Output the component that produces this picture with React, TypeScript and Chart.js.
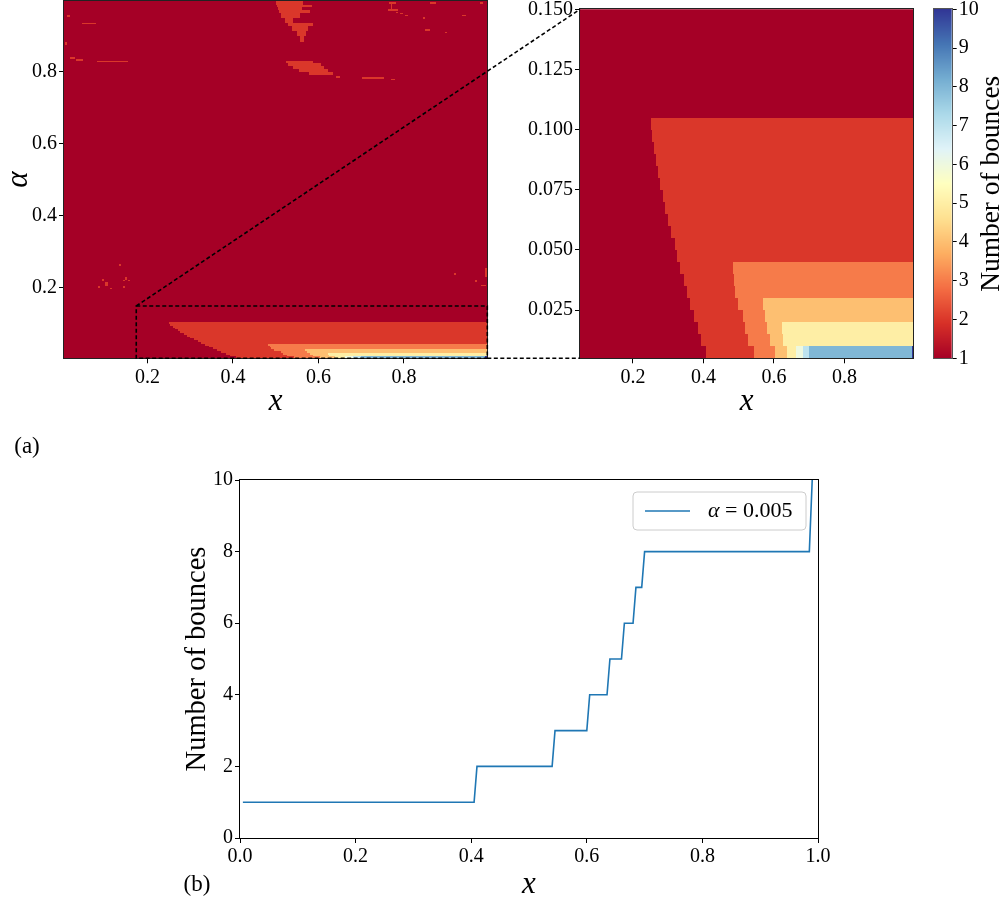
import React, { useEffect, useRef } from 'react';
import { Chart, registerables } from 'chart.js';

Chart.register(...registerables);

const SERIF = '"Liberation Serif", "DejaVu Serif", serif';

// ---- colour scale: number of bounces ----
const COUNT_RANGE = [1, 10];
const COUNT_TICKS = [1, 2, 3, 4, 5, 6, 7, 8, 9, 10];
const RDYLBU = ['#a50026', '#d73027', '#f46d43', '#fdae61', '#fee090', '#ffffbf', '#e0f3f8', '#abd9e9', '#74add1', '#4575b4', '#313695'];
const COUNT_LABEL = 'Number of bounces';

// ---- full (x, α) map ----
const FULL_X_RANGE = [0.005, 0.995];
const FULL_ALPHA_RANGE = [0.005, 0.995];
const FULL_X_TICKS = [0.2, 0.4, 0.6, 0.8];
const FULL_ALPHA_TICKS = [0.2, 0.4, 0.6, 0.8];

// ---- zoomed map ----
const ZOOM_X_RANGE = [0.05, 0.995];
const ZOOM_ALPHA_RANGE = [0.005, 0.15];
const ZOOM_X_TICKS = [0.2, 0.4, 0.6, 0.8];
const ZOOM_ALPHA_TICKS = [0.025, 0.05, 0.075, 0.1, 0.125, 0.15];

// region of the full map shown in the zoom
const MARK_X = [0.174, 0.995];
const MARK_ALPHA = [0.005, 0.15];

// low-α band: rows of height ALPHA_STEP, lower edge given by ROW_ALPHA
const ALPHA_STEP = 0.005;
const ROW_ALPHA = [0.005, 0.01, 0.015, 0.02, 0.025, 0.03, 0.035, 0.04, 0.045, 0.05, 0.055, 0.06, 0.065, 0.07, 0.075, 0.08, 0.085, 0.09, 0.095, 0.1];
// x at which a row first reaches n bounces (row order as ROW_ALPHA)
const EDGE_2 = [0.408, 0.394, 0.384, 0.372, 0.362, 0.354, 0.345, 0.334, 0.326, 0.318, 0.309, 0.3, 0.292, 0.285, 0.277, 0.271, 0.265, 0.259, 0.254, 0.251];
const EDGE_3 = [0.544, 0.527, 0.518, 0.512, 0.497, 0.49, 0.486, 0.483];
const EDGE_4 = [0.603, 0.588, 0.58, 0.574, 0.568];
const EDGE_5 = [0.638, 0.625, 0.623];
const EDGE_6 = [0.663];
const EDGE_7 = [0.682];
const EDGE_8 = [0.699];
const EDGE_10 = [0.99];

// isolated two-bounce islands at larger α: [x0, x1, α0, α1]
const ISLAND_COUNT = 2;
const ISLANDS: number[][] = [
  [0.501, 0.565, 0.984, 0.995], [0.503, 0.585, 0.978, 0.984], [0.506, 0.561, 0.97, 0.978],
  [0.509, 0.581, 0.963, 0.97], [0.512, 0.557, 0.949, 0.963], [0.522, 0.54, 0.935, 0.949],
  [0.53, 0.588, 0.926, 0.935], [0.538, 0.575, 0.912, 0.926], [0.549, 0.571, 0.898, 0.912],
  [0.557, 0.567, 0.881, 0.898],
  [0.524, 0.588, 0.822, 0.828], [0.53, 0.606, 0.815, 0.822], [0.54, 0.614, 0.806, 0.815],
  [0.555, 0.622, 0.797, 0.806], [0.578, 0.633, 0.789, 0.797], [0.641, 0.65, 0.783, 0.788],
  [0.012, 0.018, 0.952, 0.957], [0.048, 0.079, 0.93, 0.935], [0.008, 0.012, 0.872, 0.881],
  [0.018, 0.03, 0.835, 0.839], [0.032, 0.049, 0.829, 0.835], [0.083, 0.155, 0.825, 0.83],
  [0.764, 0.782, 0.987, 0.993], [0.769, 0.773, 0.968, 0.993], [0.762, 0.786, 0.968, 0.974],
  [0.782, 0.786, 0.961, 0.965], [0.79, 0.798, 0.958, 0.961], [0.803, 0.81, 0.953, 0.956],
  [0.862, 0.874, 0.987, 0.993], [0.979, 0.986, 0.987, 0.991], [0.936, 0.946, 0.953, 0.956],
  [0.845, 0.849, 0.946, 0.952], [0.85, 0.86, 0.912, 0.917], [0.895, 0.9, 0.906, 0.91],
  [0.702, 0.753, 0.78, 0.785], [0.77, 0.78, 0.776, 0.78],
  [0.133, 0.138, 0.261, 0.267], [0.094, 0.099, 0.22, 0.225], [0.102, 0.109, 0.206, 0.216],
  [0.084, 0.089, 0.199, 0.204], [0.113, 0.118, 0.196, 0.2], [0.147, 0.153, 0.223, 0.229],
  [0.143, 0.148, 0.218, 0.223], [0.155, 0.16, 0.218, 0.223], [0.143, 0.147, 0.2, 0.204],
  [0.917, 0.921, 0.235, 0.241], [0.966, 0.97, 0.216, 0.222], [0.981, 0.991, 0.204, 0.209],
  [0.99, 0.995, 0.229, 0.255],
];

// ---- (b): bounces along x at fixed α ----
const LINE_ALPHA = '0.005';
const LINE_X = [0.005, 0.405, 0.41, 0.54, 0.545, 0.6, 0.605, 0.635, 0.64, 0.66, 0.665, 0.68, 0.685, 0.695, 0.7, 0.985, 0.99];
const LINE_COUNT = [1, 1, 2, 2, 3, 3, 4, 4, 5, 5, 6, 6, 7, 7, 8, 8, 10];
const B_X_RANGE = [0, 1];
const B_Y_RANGE = [0, 10];
const B_X_TICKS = [0, 0.2, 0.4, 0.6, 0.8, 1.0];
const B_Y_TICKS = [0, 2, 4, 6, 8, 10];

// canvas placement on the page
const FULL_BOX = { left: 0, top: 0, width: 500, height: 460 };
const ZOOM_BOX = { left: 500, top: 0, width: 420, height: 460 };
const CBAR_BOX = { left: 920, top: 0, width: 87, height: 460 };
const LINE_BOX = { left: 160, top: 460, width: 680, height: 444 };

type Cell = { x0: number; x1: number; a0: number; a1: number; n: number };

function hexRgb(h: string): number[] {
  return [1, 3, 5].map((i) => parseInt(h.slice(i, i + 2), 16));
}

function countColor(v: number): string {
  const t = Math.min(1, Math.max(0, (v - COUNT_RANGE[0]) / (COUNT_RANGE[1] - COUNT_RANGE[0])));
  const p = t * (RDYLBU.length - 1);
  const i = Math.min(RDYLBU.length - 2, Math.floor(p));
  const f = p - i;
  const a = hexRgb(RDYLBU[i]);
  const b = hexRgb(RDYLBU[i + 1]);
  const c = a.map((ch, k) => Math.round(ch + (b[k] - ch) * f));
  return `rgb(${c[0]},${c[1]},${c[2]})`;
}

const EDGES: [number, number[]][] = [
  [2, EDGE_2], [3, EDGE_3], [4, EDGE_4], [5, EDGE_5], [6, EDGE_6], [7, EDGE_7], [8, EDGE_8], [10, EDGE_10],
];

function bandCells(xEnd: number): Cell[] {
  const cells: Cell[] = [];
  ROW_ALPHA.forEach((a0, r) => {
    const starts = EDGES.filter(([, e]) => e[r] !== undefined)
      .map(([n, e]) => ({ x: e[r], n }))
      .sort((p, q) => p.x - q.x);
    starts.forEach((s, k) => {
      const x1 = k + 1 < starts.length ? starts[k + 1].x : xEnd;
      cells.push({ x0: s.x, x1, a0, a1: a0 + ALPHA_STEP, n: s.n });
    });
  });
  return cells;
}

function mapCells(xr: number[], ar: number[], withIslands: boolean): Cell[] {
  const cells: Cell[] = [{ x0: xr[0], x1: xr[1], a0: ar[0], a1: ar[1], n: 1 }];
  if (withIslands) {
    ISLANDS.forEach(([x0, x1, a0, a1]) => cells.push({ x0, x1, a0, a1, n: ISLAND_COUNT }));
  }
  return cells.concat(bandCells(xr[1]));
}

const heatmapPlugin = (cells: Cell[]) => ({
  id: 'heatmap',
  beforeDatasetsDraw(chart: any) {
    const { ctx, chartArea: ca, scales } = chart;
    const xs = scales.x;
    const ys = scales.y;
    ctx.save();
    ctx.beginPath();
    ctx.rect(ca.left, ca.top, ca.right - ca.left, ca.bottom - ca.top);
    ctx.clip();
    for (const c of cells) {
      const l = Math.round(xs.getPixelForValue(c.x0));
      const r = Math.round(xs.getPixelForValue(c.x1));
      const t = Math.round(ys.getPixelForValue(c.a1));
      const b = Math.round(ys.getPixelForValue(c.a0));
      ctx.fillStyle = countColor(c.n);
      ctx.fillRect(l, t, Math.max(1, r - l), Math.max(1, b - t));
    }
    ctx.restore();
  },
});

const framePlugin = (color: string) => ({
  id: 'frame',
  afterDatasetsDraw(chart: any) {
    const { ctx, chartArea: a } = chart;
    const l = Math.round(a.left) - 0.5;
    const t = Math.round(a.top) - 0.5;
    const r = Math.round(a.right) + 0.5;
    const b = Math.round(a.bottom) + 0.5;
    ctx.save();
    ctx.strokeStyle = color;
    ctx.lineWidth = 1;
    ctx.strokeRect(l, t, r - l, b - t);
    ctx.restore();
  },
});

const tagPlugin = (text: string, x: number, y: number) => ({
  id: 'tag',
  afterDraw(chart: any) {
    const { ctx } = chart;
    ctx.save();
    ctx.fillStyle = '#000';
    ctx.font = `23px ${SERIF}`;
    ctx.textAlign = 'center';
    ctx.textBaseline = 'middle';
    ctx.fillText(text, x, y);
    ctx.restore();
  },
});

const colorbarPlugin = {
  id: 'colorbar',
  beforeDatasetsDraw(chart: any) {
    const { ctx, chartArea: a, scales } = chart;
    const ys = scales.y;
    ctx.save();
    for (let py = Math.floor(a.top); py < Math.ceil(a.bottom); py++) {
      ctx.fillStyle = countColor(ys.getValueForPixel(py + 0.5));
      ctx.fillRect(a.left, py, a.right - a.left, 1);
    }
    ctx.restore();
  },
  afterDraw(chart: any) {
    const { ctx, chartArea: a } = chart;
    ctx.save();
    ctx.fillStyle = '#000';
    ctx.font = `27.4px ${SERIF}`;
    ctx.textAlign = 'center';
    ctx.textBaseline = 'middle';
    ctx.translate(72, (a.top + a.bottom) / 2);
    ctx.rotate(-Math.PI / 2);
    ctx.fillText(COUNT_LABEL, 0, 0);
    ctx.restore();
  },
};

const legendPlugin = {
  id: 'insideLegend',
  afterDraw(chart: any) {
    const { ctx, chartArea: a } = chart;
    const ds = chart.data.datasets[0];
    const w = 173;
    const h = 38;
    const x = a.right - 12 - w;
    const y = a.top + 12;
    const r = 4;
    ctx.save();
    ctx.beginPath();
    ctx.moveTo(x + r, y);
    ctx.arcTo(x + w, y, x + w, y + h, r);
    ctx.arcTo(x + w, y + h, x, y + h, r);
    ctx.arcTo(x, y + h, x, y, r);
    ctx.arcTo(x, y, x + w, y, r);
    ctx.closePath();
    ctx.fillStyle = 'rgba(255,255,255,0.8)';
    ctx.fill();
    ctx.strokeStyle = '#cccccc';
    ctx.lineWidth = 1;
    ctx.stroke();
    const cy = y + h / 2;
    ctx.beginPath();
    ctx.moveTo(x + 12, cy);
    ctx.lineTo(x + 57, cy);
    ctx.strokeStyle = ds.borderColor;
    ctx.lineWidth = ds.borderWidth;
    ctx.stroke();
    ctx.fillStyle = '#000';
    ctx.textBaseline = 'middle';
    ctx.textAlign = 'left';
    ctx.font = `italic 22px ${SERIF}`;
    const tx = x + 75;
    ctx.fillText('α', tx, cy);
    const aw = ctx.measureText('α').width;
    ctx.font = `22px ${SERIF}`;
    ctx.fillText(` = ${LINE_ALPHA}`, tx + aw, cy);
    ctx.restore();
  },
};

type AxisOpts = {
  position: 'left' | 'bottom' | 'right';
  range: number[];
  ticks: number[];
  digits: number;
  size: number;
  title?: string;
  titleFont?: any;
  titlePad?: number;
};

function axis(o: AxisOpts): any {
  return {
    type: 'linear',
    position: o.position,
    min: o.range[0],
    max: o.range[1],
    afterBuildTicks: (s: any) => {
      s.ticks = o.ticks.map((v) => ({ value: v }));
    },
    afterFit: (s: any) => {
      if (s.isHorizontal()) s.height = o.size;
      else s.width = o.size;
      // the plot boxes are placed explicitly; no extra room for edge labels
      s.paddingTop = 0;
      s.paddingBottom = 0;
      s.paddingLeft = 0;
      s.paddingRight = 0;
    },
    grid: { display: true, drawOnChartArea: false, drawTicks: true, tickLength: 5, color: '#000', lineWidth: 1 },
    border: { display: false },
    ticks: {
      color: '#000',
      font: { family: SERIF, size: 20 },
      padding: 2,
      autoSkip: false,
      maxRotation: 0,
      minRotation: 0,
      callback: (v: any) => Number(v).toFixed(o.digits),
    },
    title: o.title
      ? { display: true, text: o.title, color: '#000', font: o.titleFont, padding: { top: o.titlePad, bottom: o.titlePad } }
      : { display: false },
  };
}

const ITALIC_TITLE = { family: SERIF, size: 31, style: 'italic', lineHeight: 1.2 };

export default function App() {
  const fullRef = useRef<HTMLCanvasElement>(null);
  const zoomRef = useRef<HTMLCanvasElement>(null);
  const cbarRef = useRef<HTMLCanvasElement>(null);
  const lineRef = useRef<HTMLCanvasElement>(null);
  const overlayRef = useRef<HTMLCanvasElement>(null);

  useEffect(() => {
    const base = {
      animation: false as const,
      responsive: false,
      maintainAspectRatio: false,
      events: [] as any[],
      plugins: { legend: { display: false }, tooltip: { enabled: false } },
    };

    const full = new Chart(fullRef.current!, {
      type: 'scatter',
      data: { datasets: [] },
      options: {
        ...base,
        layout: { padding: { left: 0, top: 1, right: 12.7, bottom: 0 } },
        scales: {
          x: axis({ position: 'bottom', range: FULL_X_RANGE, ticks: FULL_X_TICKS, digits: 1, size: 101.7, title: 'x', titleFont: ITALIC_TITLE, titlePad: 40 }),
          y: axis({ position: 'left', range: FULL_ALPHA_RANGE, ticks: FULL_ALPHA_TICKS, digits: 1, size: 64, title: 'α', titleFont: ITALIC_TITLE, titlePad: 0 }),
        },
      } as any,
      plugins: [heatmapPlugin(mapCells(FULL_X_RANGE, FULL_ALPHA_RANGE, true)), framePlugin('#222'), tagPlugin('(a)', 27, 447)],
    });

    const zoom = new Chart(zoomRef.current!, {
      type: 'scatter',
      data: { datasets: [] },
      options: {
        ...base,
        layout: { padding: { left: 0, top: 9.3, right: 6.7, bottom: 0 } },
        scales: {
          x: axis({ position: 'bottom', range: ZOOM_X_RANGE, ticks: ZOOM_X_TICKS, digits: 1, size: 101.7, title: 'x', titleFont: ITALIC_TITLE, titlePad: 40 }),
          y: axis({ position: 'left', range: ZOOM_ALPHA_RANGE, ticks: ZOOM_ALPHA_TICKS, digits: 3, size: 80 }),
        },
      } as any,
      plugins: [heatmapPlugin(mapCells(ZOOM_X_RANGE, ZOOM_ALPHA_RANGE, false)), framePlugin('#222')],
    });

    const cbar = new Chart(cbarRef.current!, {
      type: 'scatter',
      data: { datasets: [] },
      options: {
        ...base,
        layout: { padding: { left: 14, top: 9.3, right: 0, bottom: 101.7 } },
        scales: {
          x: { type: 'linear', display: false, min: 0, max: 1 },
          y: axis({ position: 'right', range: COUNT_RANGE, ticks: COUNT_TICKS, digits: 0, size: 55.3 }),
        },
      } as any,
      plugins: [colorbarPlugin, framePlugin('#555')],
    });

    const line = new Chart(lineRef.current!, {
      type: 'line',
      data: {
        datasets: [
          {
            label: `α = ${LINE_ALPHA}`,
            data: LINE_X.map((x, i) => ({ x, y: LINE_COUNT[i] })),
            borderColor: '#1f77b4',
            borderWidth: 1.6,
            pointRadius: 0,
            tension: 0,
            fill: false,
          },
        ],
      },
      options: {
        ...base,
        layout: { padding: { left: 0, top: 20, right: 22, bottom: 0 } },
        scales: {
          x: axis({ position: 'bottom', range: B_X_RANGE, ticks: B_X_TICKS, digits: 1, size: 66, title: 'x', titleFont: ITALIC_TITLE, titlePad: 1 }),
          y: axis({ position: 'left', range: B_Y_RANGE, ticks: B_Y_TICKS, digits: 0, size: 80, title: COUNT_LABEL, titleFont: { family: SERIF, size: 28.5, lineHeight: 1.2 }, titlePad: 20 }),
        },
      } as any,
      plugins: [framePlugin('#000'), legendPlugin, tagPlugin('(b)', 37, 425)],
    });

    // dashed marker box on the full map and its connectors to the zoomed map
    const ov = overlayRef.current!.getContext('2d')!;
    ov.clearRect(0, 0, 1007, 460);
    const fx = full.scales.x;
    const fy = full.scales.y;
    const zx = zoom.scales.x;
    const zy = zoom.scales.y;
    const F = (x: number, a: number) => [FULL_BOX.left + fx.getPixelForValue(x), FULL_BOX.top + fy.getPixelForValue(a)];
    const Z = (x: number, a: number) => [ZOOM_BOX.left + zx.getPixelForValue(x), ZOOM_BOX.top + zy.getPixelForValue(a)];
    ov.save();
    ov.strokeStyle = '#000';
    ov.lineWidth = 1.6;
    ov.setLineDash([4, 2.5]);
    const [bx0, by0] = F(MARK_X[0], MARK_ALPHA[1]);
    const [bx1, by1] = F(MARK_X[1], MARK_ALPHA[0]);
    ov.strokeRect(bx0, by0, bx1 - bx0, by1 - by0);
    const seg = (p: number[], q: number[]) => {
      ov.beginPath();
      ov.moveTo(p[0], p[1]);
      ov.lineTo(q[0], q[1]);
      ov.stroke();
    };
    seg(F(MARK_X[0], MARK_ALPHA[1]), Z(ZOOM_X_RANGE[0], ZOOM_ALPHA_RANGE[1]));
    seg(F(MARK_X[1], MARK_ALPHA[0]), Z(ZOOM_X_RANGE[0], ZOOM_ALPHA_RANGE[0]));
    ov.restore();

    return () => {
      full.destroy();
      zoom.destroy();
      cbar.destroy();
      line.destroy();
    };
  }, []);

  const place = (b: { left: number; top: number; width: number; height: number }): React.CSSProperties => ({
    position: 'absolute',
    left: b.left,
    top: b.top,
    width: b.width,
    height: b.height,
    display: 'block',
  });

  return (
    <div style={{ position: 'absolute', left: 0, top: 0, width: 1007, height: 904, background: '#fff', overflow: 'hidden' }}>
      <canvas ref={fullRef} width={FULL_BOX.width} height={FULL_BOX.height} style={place(FULL_BOX)} />
      <canvas ref={zoomRef} width={ZOOM_BOX.width} height={ZOOM_BOX.height} style={place(ZOOM_BOX)} />
      <canvas ref={cbarRef} width={CBAR_BOX.width} height={CBAR_BOX.height} style={place(CBAR_BOX)} />
      <canvas ref={lineRef} width={LINE_BOX.width} height={LINE_BOX.height} style={place(LINE_BOX)} />
      <canvas
        ref={overlayRef}
        width={1007}
        height={460}
        style={{ ...place({ left: 0, top: 0, width: 1007, height: 460 }), pointerEvents: 'none' }}
      />
    </div>
  );
}
